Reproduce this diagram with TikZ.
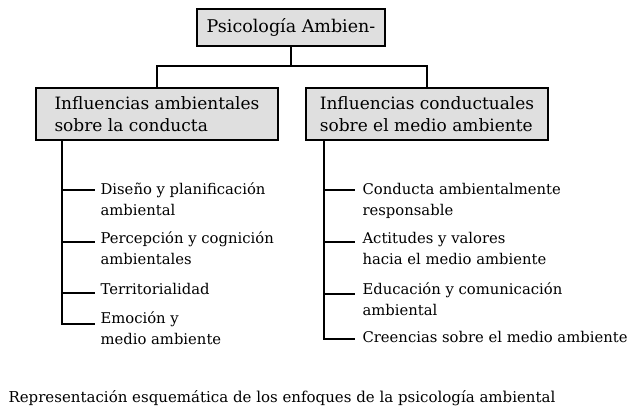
\documentclass[tikz,border=0pt]{standalone}
\usepackage{tikz}
\usepackage{fontspec}
\setmainfont{DejaVu Serif}

\begin{document}
\begin{tikzpicture}
  [x=1pt,y=-1pt,line width=1.1pt,
   every node/.style={inner sep=0pt},
   topbox/.style={draw,fill=gray!25,minimum width=188pt,minimum height=37pt,font=\fontsize{17.5}{22}\selectfont},
   headbox/.style={draw,fill=gray!25,minimum width=242pt,minimum height=52pt,align=left,font=\fontsize{17}{22}\selectfont},
   item/.style={anchor=base west,align=left,font=\fontsize{14.8}{21}\selectfont}]
  \useasboundingbox (0,0) rectangle (638,415);

  \node[topbox]  (psi) at (291,27.5)  {Psicología Ambien-};
  \node[headbox] (amb) at (157,114)   {Influencias ambientales\\sobre la conducta};
  \node[headbox] (con) at (427,114)   {Influencias conductuales\\sobre el medio ambiente};

  \coordinate (j)  at (291,66);
  \coordinate (lt) at (62,140);
  \coordinate (rt) at (324,140);

  % base = last line
  \node[item] (a1) at (100,215) {Diseño y planificación\\ambiental};
  \node[item] (a2) at (100,264) {Percepción y cognición\\ambientales};
  \node[item] (a3) at (100,294) {Territorialidad};
  \node[item] (a4) at (100,344) {Emoción y\\medio ambiente};

  \node[item] (c1) at (362,215) {Conducta ambientalmente\\responsable};
  \node[item] (c2) at (362,264) {Actitudes y valores\\hacia el medio ambiente};
  \node[item] (c3) at (362,315) {Educación y comunicación\\ambiental};
  \node[item] (c4) at (362,342) {Creencias sobre el medio ambiente};

  \node[anchor=base west,font=\fontsize{15}{18}\selectfont] (cap) at (8,402)
    {Representación esquemática de los enfoques de la psicología ambiental};

  \draw (psi) -- (j);
  \draw (j) -| (amb);
  \draw (j) -| (con);
\foreach \to/\dy in {a1/25, a2/22, a3/1, a4/20}
    \draw (lt) |- ([xshift=-5pt,yshift=\dy pt]\to.base west);
\foreach \to/\dy in {c1/25, c2/22, c3/21, c4/3}
    \draw (rt) |- ([xshift=-7pt,yshift=\dy pt]\to.base west);
\end{tikzpicture}
\end{document}
